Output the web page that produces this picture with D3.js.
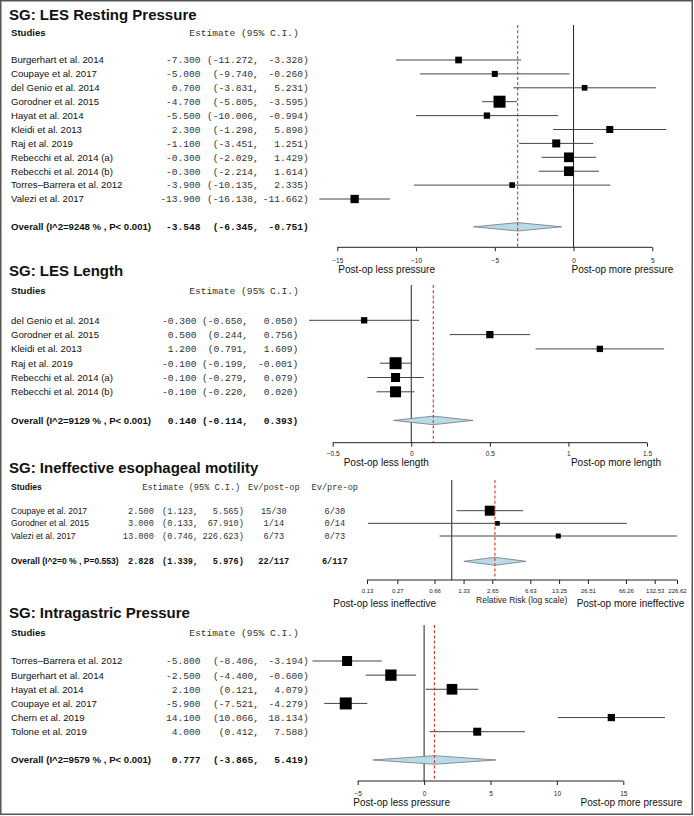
<!DOCTYPE html>
<html><head><meta charset="utf-8">
<script src="https://cdn.jsdelivr.net/npm/d3@7/dist/d3.min.js"></script>
<style>body{margin:0;background:#fff} svg{display:block}</style>
</head><body><svg id="c" width="694" height="816"></svg>
<script>
// ---------- DATA ----------
// Panel 1: LES Resting Pressure
const restTitle = "SG: LES Resting Pressure";
const restStudies = ["Burgerhart et al. 2014","Coupaye et al. 2017","del Genio et al. 2014","Gorodner et al. 2015","Hayat et al. 2014","Kleidi et al. 2013","Raj et al. 2019","Rebecchi et al. 2014 (a)","Rebecchi et al. 2014 (b)","Torres\u2013Barrera et al. 2012","Valezi et al. 2017"];
const restEst = [-7.3,-5.0,0.7,-4.7,-5.5,2.3,-1.1,-0.3,-0.3,-3.9,-13.9];
const restLo  = [-11.272,-9.740,-3.831,-5.805,-10.006,-1.298,-3.451,-2.029,-2.214,-10.135,-16.138];
const restHi  = [-3.328,-0.260,5.231,-3.595,-0.994,5.898,1.251,1.429,1.614,2.335,-11.662];
const restWt  = [6.4,5.2,4.6,20.6,5.7,7.0,9.2,13.4,13.4,4.6,9.9];
const restOverall = [-3.548,-6.345,-0.751];
const restOverallLabel = "Overall (I^2=9248 % , P< 0.001)";
const restTicks = [-15,-10,-5,0,5];
const restLabels = ["Post-op less pressure","Post-op more pressure"];

// Panel 2: LES Length
const lenTitle = "SG: LES Length";
const lenStudies = ["del Genio et al. 2014","Gorodner et al. 2015","Kleidi et al. 2013","Raj et al. 2019","Rebecchi et al. 2014 (a)","Rebecchi et al. 2014 (b)"];
const lenEst = [-0.3,0.5,1.2,-0.1,-0.1,-0.1];
const lenLo  = [-0.650,0.244,0.791,-0.199,-0.279,-0.220];
const lenHi  = [0.050,0.756,1.609,-0.001,0.079,0.020];
const lenWt  = [8.4,11.1,8.4,30.1,16.9,25.3];
const lenOverall = [0.140,-0.114,0.393];
const lenOverallLabel = "Overall (I^2=9129 % , P< 0.001)";
const lenTicks = [-0.5,0,0.5,1,1.5];
const lenLabels = ["Post-op less length","Post-op more length"];

// Panel 3: Ineffective esophageal motility (relative risk)
const iemTitle = "SG: Ineffective esophageal motility";
const iemStudies = ["Coupaye et al. 2017","Gorodner et al. 2015","Valezi et al. 2017"];
const iemEst = [2.5,3.0,13.0];
const iemLo  = [1.123,0.133,0.746];
const iemHi  = [5.565,67.910,226.623];
const iemWt  = [68,15,17];
const iemEvPost = ["15/30","1/14","6/73"];
const iemEvPre  = ["6/30","0/14","0/73"];
const iemOverall = [2.828,1.339,5.976];
const iemOverallEv = ["22/117","6/117"];
const iemOverallLabel = "Overall (I^2=0 % , P=0.553)";
const iemTicks = [0.13,0.27,0.66,1.33,2.65,6.63,13.25,26.51,66.26,132.53,226.62];
const iemLabels = ["Post-op less ineffective","Post-op more ineffective"];
const iemXLab = "Relative Risk (log scale)";

// Panel 4: Intragastric Pressure
const igpTitle = "SG: Intragastric Pressure";
const igpStudies = ["Torres\u2013Barrera et al. 2012","Burgerhart et al. 2014","Hayat et al. 2014","Coupaye et al. 2017","Chern et al. 2019","Tolone et al. 2019"];
const igpEst = [-5.8,-2.5,2.1,-5.9,14.1,4.0];
const igpLo  = [-8.406,-4.400,0.121,-7.521,10.066,0.412];
const igpHi  = [-3.194,-0.600,4.079,-4.279,18.134,7.588];
const igpWt  = [16.6,21.2,18.9,23.9,8.8,10.6];
const igpOverall = [0.777,-3.865,5.419];
const igpOverallLabel = "Overall (I^2=9579 % , P< 0.001)";
const igpTicks = [-5,0,5,10,15];
const igpLabels = ["Post-op less pressure","Post-op more pressure"];

// ---------- DRAWING ----------
const svg = d3.select("#c");
const SANS = "'Liberation Sans', Arial, Helvetica, sans-serif";
const MONO = "'Liberation Mono', 'Courier New', monospace";

svg.append("rect").attr("x",0.75).attr("y",0.75).attr("width",691.5).attr("height",813.5)
  .attr("fill","#fff").attr("stroke","#555").attr("stroke-width",1.5);

function panel(d, L){
  const g = svg.append("g");
  const n = d.studies.length;
  const x = L.log ? d3.scaleLog().domain(L.domain).range(L.xr) : d3.scaleLinear().domain(L.domain).range(L.xr);
  const y = d3.scaleLinear().domain([0,1]).range([L.row0, L.row0 + L.step]);
  const sz = d3.scaleSqrt().domain([0, d3.max(d.wt)]).range([0, L.maxSide]);

  g.append("text").attr("x",9).attr("y",L.titleY).text(d.title)
    .attr("font-family",SANS).attr("font-weight","bold").attr("font-size",15).attr("fill","#111");
  g.append("text").attr("x",11).attr("y",L.headY).attr("dy","0.35em").text("Studies")
    .attr("font-family",SANS).attr("font-weight","bold").attr("font-size",L.nameSize).attr("fill","#111");
  g.append("text").attr("x",L.headEst).attr("y",L.headY).attr("dy","0.35em").text("Estimate (95% C.I.)")
    .attr("font-family",MONO).attr("font-size",L.mono).attr("fill","#333").style("white-space","pre");
  if (d.evPost){
    g.append("text").attr("x",L.postX).attr("y",L.headY).attr("dy","0.35em").attr("text-anchor","middle").text("Ev/post-op")
      .attr("font-family",MONO).attr("font-size",L.mono).attr("fill","#333");
    g.append("text").attr("x",L.preX).attr("y",L.headY).attr("dy","0.35em").attr("text-anchor","middle").text("Ev/pre-op")
      .attr("font-family",MONO).attr("font-size",L.mono).attr("fill","#333");
  }

  const rows = d.studies.map((s,i)=>({name:s, est:d.est[i], lo:d.lo[i], hi:d.hi[i], w:d.wt[i], i,
      post: d.evPost ? d.evPost[i] : null, pre: d.evPre ? d.evPre[i] : null, bold:false}));
  const ov = {name:d.ovLabel, est:d.ov[0], lo:d.ov[1], hi:d.ov[2], i:n+1,
      post: d.ovEv ? d.ovEv[0] : null, pre: d.ovEv ? d.ovEv[1] : null, bold:true};
  const all = rows.concat([ov]);

  // text columns
  all.forEach(r=>{
    const yy = y(r.i);
    const fw = r.bold ? "bold" : "normal";
    g.append("text").attr("x",11).attr("y",yy).attr("dy","0.35em").text(r.name)
      .attr("font-family",SANS).attr("font-weight",fw).attr("font-size",L.nameSize).attr("fill","#111");
    const mono = (xx, t) => g.append("text").attr("x",xx).attr("y",yy).attr("dy","0.35em")
      .attr("text-anchor","end").text(t).attr("font-family",MONO).attr("font-weight",fw)
      .attr("font-size",L.mono).attr("fill",r.bold?"#111":"#333");
    mono(L.estEnd, r.est.toFixed(3));
    mono(L.loEnd, "(" + r.lo.toFixed(3) + ",");
    mono(L.hiEnd, r.hi.toFixed(3) + ")");
    if (r.post){
      g.append("text").attr("x",L.postX).attr("y",yy).attr("dy","0.35em").attr("text-anchor","middle").text(r.post)
        .attr("font-family",MONO).attr("font-weight",fw).attr("font-size",L.mono).attr("fill",r.bold?"#111":"#333");
      g.append("text").attr("x",L.preX).attr("y",yy).attr("dy","0.35em").attr("text-anchor","middle").text(r.pre)
        .attr("font-family",MONO).attr("font-weight",fw).attr("font-size",L.mono).attr("fill",r.bold?"#111":"#333");
    }
  });

  // reference line
  g.append("line").attr("x1",x(L.ref)).attr("x2",x(L.ref)).attr("y1",L.refTop).attr("y2",L.axisY)
    .attr("stroke","#222").attr("stroke-width",1);

  // CIs and squares
  g.selectAll("line.ci").data(rows).join("line").attr("class","ci")
    .attr("x1",r=>x(r.lo)).attr("x2",r=>x(r.hi)).attr("y1",r=>y(r.i)).attr("y2",r=>y(r.i))
    .attr("stroke","#444").attr("stroke-width",1);
  g.selectAll("rect.sq").data(rows).join("rect").attr("class","sq")
    .attr("x",r=>x(r.est)-sz(r.w)/2).attr("y",r=>y(r.i)-sz(r.w)/2)
    .attr("width",r=>sz(r.w)).attr("height",r=>sz(r.w)).attr("fill","#000");

  // diamond
  const yo = y(ov.i), h = L.dh;
  g.append("polygon").attr("points",[[x(ov.lo),yo],[x(ov.est),yo-h],[x(ov.hi),yo],[x(ov.est),yo+h]].map(p=>p.join(",")).join(" "))
    .attr("fill","#b7dbe8").attr("stroke","#777").attr("stroke-width",0.8);

  // red dashed summary line
  g.append("line").attr("x1",x(ov.est)).attr("x2",x(ov.est)).attr("y1",L.refTop).attr("y2",L.axisY)
    .attr("stroke","#d9312b").attr("stroke-width",1.1).attr("stroke-dasharray","3,2.2");

  // axis
  const ax = d3.axisBottom(x).tickValues(d.ticks).tickSize(4).tickSizeOuter(0)
    .tickFormat(L.log ? (v=>v.toFixed(2)) : (v=>String(v).replace("-","\u2212")));
  const ag = g.append("g").attr("transform",`translate(0,${L.axisY})`).call(ax);
  ag.select(".domain").attr("stroke","#222").attr("d",`M${L.xr[0]},0H${L.xr[1]}`);
  ag.selectAll(".tick line").attr("stroke","#222");
  ag.selectAll(".tick text").attr("y",L.tickLabY - L.axisY).attr("dy","0.35em")
    .attr("font-family",SANS).attr("font-size",L.tickSize).attr("fill","#222");
  ag.attr("font-family",null).attr("font-size",null);

  g.append("text").attr("x",L.leftLabX).attr("y",L.labY).attr("dy","0.35em").text(d.labels[0])
    .attr("font-family",SANS).attr("font-size",10).attr("fill","#111");
  g.append("text").attr("x",L.rightLabX).attr("y",L.labY).attr("dy","0.35em").attr("text-anchor","end").text(d.labels[1])
    .attr("font-family",SANS).attr("font-size",10).attr("fill","#111");
  if (d.xlab){
    g.append("text").attr("x",L.xlabX).attr("y",L.xlabY).attr("dy","0.35em").attr("text-anchor","middle").text(d.xlab)
      .attr("font-family",SANS).attr("font-size",8.5).attr("fill","#222");
  }
}

panel({title:restTitle, studies:restStudies, est:restEst, lo:restLo, hi:restHi, wt:restWt,
       ov:restOverall, ovLabel:restOverallLabel, ticks:restTicks, labels:restLabels},
  {titleY:19.5, headY:33, row0:60, step:13.9, xr:[337.3,652.3], domain:[-15,5], ref:0, refTop:25,
   axisY:247.3, tickLabY:260.7, labY:269, leftLabX:338.3, rightLabX:673.3,
   estEnd:200.5, loEnd:258.8, hiEnd:308.8, headEst:189.3, mono:9.6, nameSize:9.6, tickSize:6.5, dh:4.2, maxSide:12});

panel({title:lenTitle, studies:lenStudies, est:lenEst, lo:lenLo, hi:lenHi, wt:lenWt,
       ov:lenOverall, ovLabel:lenOverallLabel, ticks:lenTicks, labels:lenLabels},
  {titleY:276.3, headY:291, row0:320.3, step:14.3, xr:[332.7,647], domain:[-0.5,1.5], ref:0, refTop:285,
   axisY:442.7, tickLabY:453.3, labY:462.3, leftLabX:343.7, rightLabX:661,
   estEnd:196.5, loEnd:248, hiEnd:298.3, headEst:189.3, mono:9.6, nameSize:9.6, tickSize:6.5, dh:4.3, maxSide:12});

panel({title:iemTitle, studies:iemStudies, est:iemEst, lo:iemLo, hi:iemHi, wt:iemWt,
       ov:iemOverall, ovLabel:iemOverallLabel, ticks:iemTicks, labels:iemLabels, xlab:iemXLab,
       evPost:iemEvPost, evPre:iemEvPre, ovEv:iemOverallEv},
  {log:true, titleY:473.3, headY:486.7, row0:510.7, step:12.65, xr:[367,677], domain:[0.13,226.62], ref:1, refTop:480,
   axisY:580, tickLabY:590.7, labY:603.7, leftLabX:333.3, rightLabX:684.3, xlabX:521.7, xlabY:600,
   estEnd:153.8, loEnd:198.2, hiEnd:243.8, headEst:142.3, postX:273.8, preX:334.8,
   mono:8.6, nameSize:8.5, tickSize:6, dh:4, maxSide:10});

panel({title:igpTitle, studies:igpStudies, est:igpEst, lo:igpLo, hi:igpHi, wt:igpWt,
       ov:igpOverall, ovLabel:igpOverallLabel, ticks:igpTicks, labels:igpLabels},
  {titleY:617.5, headY:633, row0:661, step:14.14, xr:[357.7,623.3], domain:[-5,15], ref:0, refTop:625,
   axisY:781, tickLabY:794, labY:802, leftLabX:353.3, rightLabX:682.3,
   estEnd:200.5, loEnd:259, hiEnd:308.8, headEst:189.3, mono:9.6, nameSize:9.6, tickSize:6.5, dh:4.3, maxSide:12});
</script>
</body></html>
